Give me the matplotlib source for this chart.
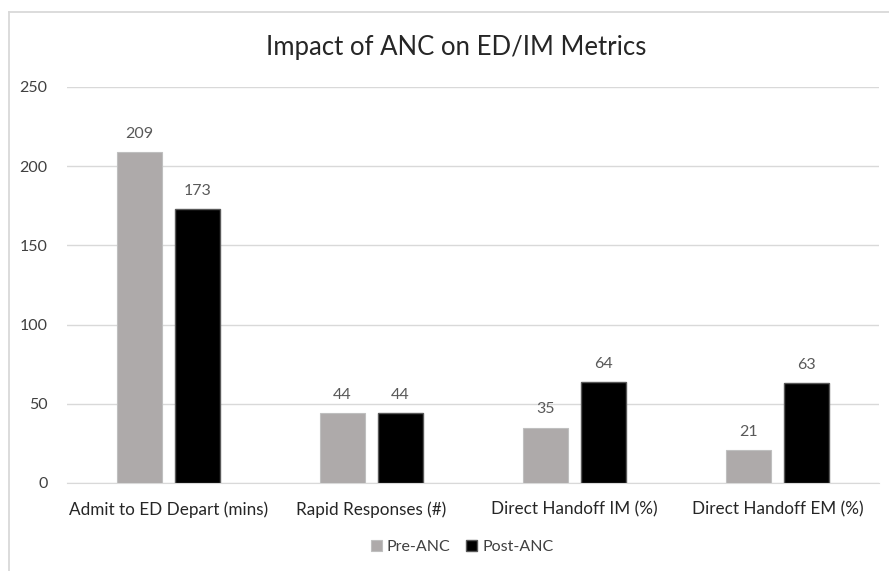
import matplotlib
matplotlib.use("Agg")
import matplotlib.pyplot as plt
import numpy as np
from matplotlib.lines import Line2D

categories = ["Admit to ED Depart (mins)", "Rapid Responses (#)",
              "Direct Handoff IM (%)", "Direct Handoff EM (%)"]
pre_anc = [209, 44, 35, 21]
post_anc = [173, 44, 64, 63]
series_names = ["Pre-ANC", "Post-ANC"]
yticks = [0, 50, 100, 150, 200, 250]

plt.rcParams['font.family'] = ['Lato', 'DejaVu Sans']

W, H = 889, 571
fig = plt.figure(figsize=(W / 100, H / 100), dpi=100)
ax = fig.add_axes([67 / W, 1 - 483 / H, (879 - 67) / W, (483 - 87) / H])

# chart outer border (only top and left visible)
fig.lines.append(Line2D([8.5 / W, 1.0], [1 - 11.5 / H, 1 - 11.5 / H],
                        transform=fig.transFigure, color="#D9D9D9", linewidth=1.3))
fig.lines.append(Line2D([8.5 / W, 8.5 / W], [1 - 11.5 / H, 0.0],
                        transform=fig.transFigure, color="#D9D9D9", linewidth=1.3))

x = np.arange(len(categories))
bw = 0.222
off = 0.143
gray = "#AEAAAA"
b1 = ax.bar(x - off, pre_anc, bw, color=gray, edgecolor="#BFBFBF", linewidth=0.8,
            label=series_names[0], zorder=3)
b2 = ax.bar(x + off, post_anc, bw, color="black", edgecolor="#595959", linewidth=1.0,
            label=series_names[1], zorder=3)

for bars in (b1, b2):
    for rect in bars:
        h = rect.get_height()
        ax.annotate(f"{h:.0f}", (rect.get_x() + rect.get_width() / 2, h),
                    xytext=(0, 8), textcoords="offset points", ha="center",
                    va="bottom", fontsize=11.5, color="#595959")

ax.set_xlim(-0.5, len(categories) - 0.5)
ax.set_ylim(0, 250)
ax.set_yticks(yticks)
ax.set_yticklabels([str(v) for v in yticks])
ax.set_xticks(x)
ax.set_xticklabels(categories)
ax.grid(axis="y", color="#D9D9D9", linewidth=1.0, zorder=0)
ax.set_axisbelow(True)
for s in ["top", "right", "left"]:
    ax.spines[s].set_visible(False)
ax.spines["bottom"].set_color("#D9D9D9")
ax.tick_params(axis="y", length=0, pad=14, labelsize=11.5, labelcolor="#404040")
ax.tick_params(axis="x", length=0, pad=13, labelsize=12.3, labelcolor="#262626")

fig.text(456 / W, 1 - 47 / H, "Impact of ANC on ED/IM Metrics", ha="center",
         va="center", fontsize=18.5, color="#262626")

leg = fig.legend(handles=[b1, b2], labels=series_names, loc="center",
                 bbox_to_anchor=(462 / W, 1 - 547 / H), ncol=2, frameon=False,
                 fontsize=11.5, handlelength=0.7, handleheight=0.7,
                 handletextpad=0.3, columnspacing=1.0)
for t in leg.get_texts():
    t.set_color("#404040")

fig.savefig("out.png", dpi=100)
